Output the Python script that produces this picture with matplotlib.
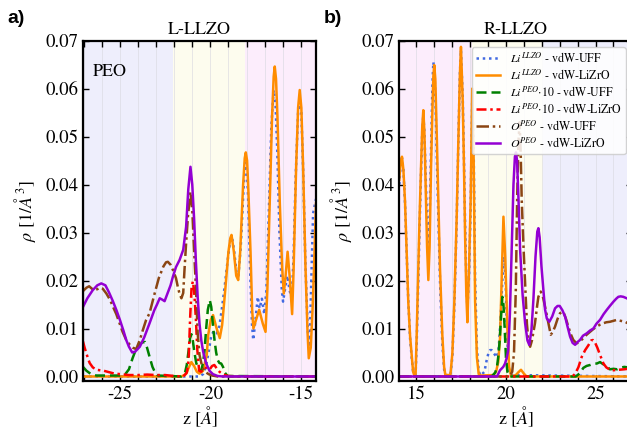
import matplotlib
matplotlib.use("Agg")
import matplotlib.pyplot as plt
from matplotlib.ticker import MultipleLocator, FormatStrFormatter

plt.rcParams['font.family'] = ['STIXGeneral', 'DejaVu Sans']
plt.rcParams['mathtext.fontset'] = 'custom'
plt.rcParams['mathtext.rm'] = 'STIXGeneral'
plt.rcParams['mathtext.it'] = 'STIXGeneral:italic'
plt.rcParams['mathtext.bf'] = 'STIXGeneral:bold'
plt.rcParams['axes.unicode_minus'] = False

# ---------------- data: left panel (L-LLZO) ----------------
zL_li_uff = [-27.04, -20.6, -20.4, -20.25, -20.1, -19.95, -19.8, -19.65, -19.5, -19.35, -19.2, -19.05, -18.9, -18.8,
             -18.68, -18.55, -18.45, -18.32, -18.18, -18.08, -18.0, -17.92, -17.8, -17.7, -17.63, -17.5, -17.38, -17.28,
             -17.15, -17.02, -16.9, -16.77, -16.63, -16.5, -16.4, -16.3, -16.18, -16.05, -15.98, -15.88, -15.75, -15.62,
             -15.5, -15.4, -15.28, -15.15, -15.06, -14.97, -14.87, -14.75, -14.62, -14.52, -14.42, -14.32, -14.16]
rL_li_uff = [0.0, 0.0, 0.0005, 0.002, 0.005, 0.0085, 0.0095, 0.009, 0.0105, 0.0145, 0.019, 0.024, 0.0285, 0.029,
             0.026, 0.0215, 0.021, 0.027, 0.038, 0.0445, 0.0445, 0.038, 0.022, 0.011, 0.0076, 0.012, 0.0166, 0.0142,
             0.0162, 0.013, 0.018, 0.034, 0.052, 0.0597, 0.057, 0.047, 0.03, 0.018, 0.0156, 0.018, 0.021, 0.018,
             0.016, 0.025, 0.042, 0.055, 0.058, 0.055, 0.043, 0.024, 0.01, 0.0055, 0.02, 0.034, 0.037]

zL_li_lizro = [-27.04, -21.6, -21.35, -21.2, -21.05, -20.9, -20.75, -20.6, -20.4, -20.2, -20.12, -19.98, -19.85,
               -19.66, -19.48, -19.35, -19.2, -19.0, -18.9, -18.83, -18.7, -18.57, -18.46, -18.35, -18.19, -18.1,
               -18.04, -17.97, -17.91, -17.78, -17.69, -17.62, -17.5, -17.3, -17.1, -16.95, -16.85, -16.72, -16.59,
               -16.5, -16.44, -16.37, -16.29, -16.16, -16.03, -15.94, -15.84, -15.73, -15.62, -15.48, -15.4, -15.26,
               -15.15, -15.06, -14.97, -14.87, -14.74, -14.63, -14.56, -14.45, -14.35, -14.27, -14.16]
rL_li_lizro = [0.0, 0.0, 0.0005, 0.0018, 0.003, 0.0022, 0.001, 0.0006, 0.0012, 0.0045, 0.0086, 0.0118, 0.0128,
               0.0101, 0.008, 0.0107, 0.017, 0.026, 0.0288, 0.0295, 0.026, 0.021, 0.0201, 0.026, 0.0399, 0.0455,
               0.0467, 0.045, 0.0399, 0.026, 0.014, 0.010, 0.0115, 0.0139, 0.011, 0.0093, 0.018, 0.036, 0.054,
               0.0625, 0.0646, 0.062, 0.054, 0.036, 0.0226, 0.0173, 0.021, 0.026, 0.021, 0.013, 0.022, 0.0434,
               0.056, 0.0597, 0.056, 0.0434, 0.0226, 0.0094, 0.0038, 0.006, 0.014, 0.0226, 0.036]

zL_peo_uff = [-27.04, -26.85, -26.6, -26.3, -25.0, -24.7, -24.5, -24.3, -24.1, -23.9, -23.75, -23.62, -23.5, -23.36,
              -23.2, -23.05, -22.9, -21.6, -21.4, -21.3, -21.2, -21.12, -21.05, -20.97, -20.88, -20.78, -20.65, -20.5,
              -20.4, -20.32, -20.22, -20.14, -20.03, -19.95, -19.85, -19.77, -19.68, -19.59, -19.5, -19.4, -19.3,
              -19.2, -19.05, -14.16]
rL_peo_uff = [0.002, 0.0012, 0.0005, 0.0002, 0.0002, 0.0005, 0.0015, 0.0038, 0.0058, 0.0067, 0.0071, 0.0072, 0.006,
              0.0041, 0.002, 0.0008, 0.0002, 0.0, 0.0008, 0.0025, 0.0055, 0.008, 0.0088, 0.0075, 0.005, 0.0028,
              0.0015, 0.0012, 0.003, 0.0055, 0.0105, 0.0139, 0.0159, 0.0145, 0.0105, 0.0076, 0.005, 0.0034, 0.0028,
              0.0027, 0.002, 0.0008, 0.0001, 0.0]

zL_peo_lizro = [-27.04, -26.95, -26.85, -26.75, -26.67, -26.5, -26.3, -26.1, -25.9, -25.6, -25.3, -25.0, -24.5,
                -24.0, -23.5, -23.0, -22.5, -22.0, -21.5, -21.3, -21.2, -21.12, -21.04, -20.97, -20.9, -20.8, -20.72,
                -20.62, -20.5, -20.35, -20.2, -20.05, -19.9, -19.78, -19.65, -19.5, -19.3, -19.0, -18.5, -14.16]
rL_peo_lizro = [0.0073, 0.006, 0.0048, 0.0036, 0.0028, 0.0019, 0.0014, 0.0013, 0.0012, 0.0009, 0.0006, 0.0005,
                0.0003, 0.0003, 0.0004, 0.0003, 0.0003, 0.0001, 0.0, 0.0008, 0.0034, 0.012, 0.0185, 0.0198, 0.018,
                0.012, 0.0055, 0.0012, 0.001, 0.0018, 0.0018, 0.0014, 0.0022, 0.0024, 0.0017, 0.001, 0.0004, 0.0001,
                0.0, 0.0]

zL_o_uff = [-27.04, -26.85, -26.7, -26.55, -26.4, -26.25, -26.1, -25.95, -25.75, -25.55, -25.39, -25.2, -25.02,
            -24.85, -24.65, -24.45, -24.28, -24.1, -23.9, -23.73, -23.55, -23.36, -23.08, -22.85, -22.6, -22.45,
            -22.35, -22.2, -22.07, -21.9, -21.8, -21.7, -21.6, -21.5, -21.43, -21.34, -21.24, -21.1, -21.0, -20.9,
            -20.8, -20.7, -20.6, -20.45, -20.3, -20.1, -19.9, -19.6, -14.16]
rL_o_uff = [0.0178, 0.0185, 0.0188, 0.0183, 0.018, 0.0182, 0.0185, 0.0183, 0.0173, 0.016, 0.0146, 0.013, 0.0111,
            0.0093, 0.0076, 0.0066, 0.006, 0.0057, 0.0076, 0.0097, 0.0118, 0.0132, 0.0173, 0.0205, 0.0229, 0.0238,
            0.0239, 0.0233, 0.0222, 0.0205, 0.0187, 0.0172, 0.0163, 0.0174, 0.0222, 0.0278, 0.0333, 0.0385, 0.0347,
            0.0264, 0.0187, 0.009, 0.0045, 0.002, 0.001, 0.0005, 0.0002, 0.0, 0.0]

zL_o_lizro = [-27.04, -26.8, -26.5, -26.25, -26.03, -25.8, -25.6, -25.4, -25.2, -25.0, -24.8, -24.65, -24.5, -24.32,
              -24.15, -23.9, -23.65, -23.36, -23.1, -22.95, -22.8, -22.65, -22.53, -22.4, -22.2, -22.07, -21.9, -21.7,
              -21.5, -21.34, -21.22, -21.1, -21.0, -20.9, -20.8, -20.7, -20.6, -20.5, -20.4, -20.24, -20.05, -19.86,
              -19.6, -19.3, -14.16]
rL_o_lizro = [0.0145, 0.0163, 0.018, 0.019, 0.0194, 0.019, 0.0175, 0.0158, 0.0139, 0.0118, 0.0095, 0.0076, 0.0062,
              0.005, 0.0052, 0.0062, 0.0082, 0.0111, 0.0138, 0.015, 0.0163, 0.016, 0.0157, 0.017, 0.019, 0.0208,
              0.0228, 0.0243, 0.0264, 0.0312, 0.039, 0.0437, 0.040, 0.033, 0.024, 0.0165, 0.011, 0.0075, 0.0052,
              0.0028, 0.0012, 0.0005, 0.0001, 0.0, 0.0]

# ---------------- data: right panel (R-LLZO) ----------------
zR_li = [14.05, 14.12, 14.2, 14.28, 14.37, 14.46, 14.55, 14.65, 14.74, 14.82, 14.88, 14.96, 15.02, 15.11, 15.18,
         15.26, 15.33, 15.39, 15.45, 15.52, 15.6, 15.67, 15.74, 15.82, 15.9, 15.95, 16.0, 16.06, 16.14, 16.23, 16.32,
         16.45, 16.55, 16.62, 16.9, 17.01, 17.12, 17.25, 17.34, 17.43, 17.49, 17.59, 17.66, 17.72, 17.79, 17.85,
         17.94, 18.03, 18.12, 18.2, 18.28, 18.38, 18.48, 18.6]
rR_li_uff_a = [0.040, 0.044, 0.0455, 0.043, 0.036, 0.026, 0.016, 0.008, 0.004, 0.001, 0.0003, 0.0005, 0.007, 0.02,
               0.031, 0.042, 0.051, 0.0545, 0.051, 0.042, 0.032, 0.028, 0.033, 0.047, 0.061, 0.0655, 0.064, 0.059,
               0.046, 0.033, 0.02, 0.007, 0.0015, 0.0003, 0.0003, 0.004, 0.0145, 0.032, 0.048, 0.063, 0.068, 0.058,
               0.045, 0.032, 0.02, 0.014, 0.021, 0.035, 0.058, 0.047, 0.02, 0.006, 0.001, 0.0002]
rR_li_lizro_a = [0.041, 0.0445, 0.0458, 0.043, 0.0364, 0.026, 0.0156, 0.0085, 0.0045, 0.001, 0.0003, 0.0005, 0.0087,
                 0.0226, 0.033, 0.0434, 0.052, 0.0555, 0.051, 0.0398, 0.027, 0.0201, 0.027, 0.0434, 0.056, 0.0625,
                 0.0649, 0.062, 0.0503, 0.0364, 0.0226, 0.0087, 0.002, 0.0003, 0.0003, 0.0048, 0.0156, 0.033, 0.0483,
                 0.0628, 0.0687, 0.0573, 0.0434, 0.0295, 0.017, 0.0113, 0.0226, 0.0364, 0.060, 0.045, 0.0156, 0.004,
                 0.0005, 0.0002]
zR_li_uff_b = [18.8, 18.93, 19.02, 19.12, 19.2, 19.3, 19.39, 19.5, 19.6, 19.7, 19.8, 19.9, 19.98, 20.06, 20.15,
               20.25, 27.05]
rR_li_uff_b = [0.001, 0.0035, 0.0048, 0.0055, 0.0055, 0.005, 0.0045, 0.004, 0.006, 0.012, 0.02, 0.025, 0.02, 0.009,
               0.002, 0.0003, 0.0]
zR_li_lizro_b = [19.3, 19.45, 19.57, 19.67, 19.76, 19.86, 19.96, 20.08, 20.18, 20.3, 20.55, 20.7, 20.84, 21.0,
                 21.15, 27.05]
rR_li_lizro_b = [0.0003, 0.001, 0.003, 0.008, 0.02, 0.0333, 0.025, 0.01, 0.002, 0.0, 0.0003, 0.0009, 0.0014, 0.0006,
                 0.0, 0.0]

zR_peo_uff = [14.05, 19.2, 19.4, 19.5, 19.57, 19.65, 19.72, 19.8, 19.86, 19.93, 20.0, 20.08, 20.2, 23.9, 24.13,
              24.32, 24.5, 24.7, 24.9, 25.07, 25.25, 25.45, 25.63, 25.8, 26.0, 26.2, 26.37, 26.6, 26.8, 27.05]
rR_peo_uff = [0.0, 0.0, 0.0008, 0.002, 0.0041, 0.0075, 0.012, 0.0166, 0.015, 0.01, 0.004, 0.001, 0.0, 0.0, 0.0007,
              0.0018, 0.0022, 0.0024, 0.0027, 0.0027, 0.003, 0.0025, 0.0021, 0.0015, 0.0016, 0.0015, 0.0018, 0.002,
              0.0019, 0.0018]

zR_peo_lizro = [14.05, 23.7, 23.85, 24.04, 24.23, 24.42, 24.6, 24.75, 24.85, 24.98, 25.1, 25.25, 25.44, 25.6, 25.8,
                26.0, 26.3, 26.6, 26.8, 27.05]
rR_peo_lizro = [0.0, 0.0, 0.0005, 0.0019, 0.0041, 0.0055, 0.0065, 0.0075, 0.0076, 0.007, 0.006, 0.0045, 0.0027,
                0.0019, 0.0014, 0.0013, 0.0014, 0.0015, 0.0016, 0.0015]

zR_o_uff = [14.05, 20.2, 20.35, 20.45, 20.55, 20.63, 20.7, 20.76, 20.82, 20.88, 20.98, 21.07, 21.17, 21.25, 21.35,
            21.45, 21.62, 21.75, 21.81, 21.94, 22.05, 22.18, 22.37, 22.5, 22.6, 22.74, 22.88, 23.02, 23.2, 23.35,
            23.48, 23.62, 23.76, 23.95, 24.15, 24.32, 24.5, 24.69, 24.88, 25.07, 25.25, 25.44, 25.6, 25.8, 26.0,
            26.18, 26.4, 26.64, 26.85, 27.05]
rR_o_uff = [0.0, 0.0, 0.001, 0.005, 0.018, 0.038, 0.049, 0.053, 0.047, 0.0368, 0.027, 0.0194, 0.011, 0.0076, 0.0062,
            0.0075, 0.0111, 0.015, 0.0166, 0.0177, 0.0168, 0.0146, 0.0111, 0.0087, 0.0092, 0.0104, 0.012, 0.0132,
            0.0135, 0.012, 0.0104, 0.0088, 0.0076, 0.0069, 0.0074, 0.008, 0.0087, 0.0093, 0.0099, 0.0104, 0.0108,
            0.0111, 0.0113, 0.0114, 0.0116, 0.0118, 0.0116, 0.0114, 0.011, 0.0108]

zR_o_lizro = [14.05, 19.5, 19.67, 19.85, 19.95, 20.05, 20.13, 20.22, 20.32, 20.42, 20.5, 20.56, 20.62, 20.7, 20.79,
              20.93, 21.07, 21.2, 21.3, 21.42, 21.53, 21.65, 21.75, 21.81, 21.88, 21.98, 22.09, 22.18, 22.28, 22.42,
              22.58, 22.74, 22.88, 23.0, 23.15, 23.3, 23.45, 23.58, 23.72, 23.86, 24.0, 24.13, 24.3, 24.51, 24.7,
              24.88, 25.05, 25.25, 25.45, 25.63, 25.8, 26.0, 26.15, 26.27, 26.4, 26.55, 26.74, 26.9, 27.05]
rR_o_lizro = [0.0, 0.0, 0.0013, 0.002, 0.0027, 0.004, 0.0055, 0.013, 0.0264, 0.040, 0.0458, 0.0467, 0.045, 0.037,
              0.0264, 0.017, 0.0111, 0.0075, 0.0066, 0.0095, 0.0159, 0.025, 0.0302, 0.0309, 0.029, 0.023, 0.018,
              0.014, 0.0121, 0.0114, 0.0125, 0.0142, 0.0147, 0.0147, 0.0138, 0.0125, 0.0102, 0.0083, 0.007, 0.0066,
              0.0072, 0.0076, 0.0085, 0.009, 0.0096, 0.01, 0.011, 0.0118, 0.013, 0.0139, 0.0147, 0.0156, 0.0162,
              0.0166, 0.0167, 0.0166, 0.0163, 0.016, 0.0158]

labels = [r'$Li^{LLZO}$ - vdW-UFF', r'$Li^{LLZO}$ - vdW-LiZrO', r'$Li^{PEO}$$\cdot$10 - vdW-UFF',
          r'$Li^{PEO}$$\cdot$10 - vdW-LiZrO', r'$O^{PEO}$ - vdW-UFF', r'$O^{PEO}$ - vdW-LiZrO']
titles = ['L-LLZO', 'R-LLZO']
panel_tags = ['a)', 'b)']

# ---------------- styles ----------------
c_blue, c_orange, c_green, c_red, c_brown, c_purple = '#4169e1', '#ff8c00', '#008000', '#ff0000', '#8b4513', '#9400d3'
ls_blue = (0, (1, 1.5))
ls_green = (0, (4, 2))
ls_red = (0, (4, 1.5, 1, 1.5))
ls_brown = (0, (5, 1.5, 1, 1.5))
lw = 1.8

fig = plt.figure(figsize=(6.27, 4.33), dpi=100)
axL = fig.add_axes([83 / 627, (433 - 381) / 433, 233 / 627, (381 - 40.6) / 433])
axR = fig.add_axes([399.3 / 627, (433 - 381) / 433, 233 / 627, (381 - 40.6) / 433])

c_bg_blue, c_bg_yel, c_bg_pink = '#eeeefc', '#fdfcee', '#fcedfc'

# left panel
axL.axvspan(-27.04, -22.05, color=c_bg_blue, zorder=0, lw=0)
axL.axvspan(-22.05, -18.09, color=c_bg_yel, zorder=0, lw=0)
axL.axvspan(-18.09, -14.16, color=c_bg_pink, zorder=0, lw=0)
axL.plot(zL_li_uff, rL_li_uff, color=c_blue, ls=ls_blue, lw=lw)
axL.plot(zL_li_lizro, rL_li_lizro, color=c_orange, ls='-', lw=lw)
axL.plot(zL_peo_uff, rL_peo_uff, color=c_green, ls=ls_green, lw=lw)
axL.plot(zL_peo_lizro, rL_peo_lizro, color=c_red, ls=ls_red, lw=lw)
axL.plot(zL_o_uff, rL_o_uff, color=c_brown, ls=ls_brown, lw=lw)
axL.plot(zL_o_lizro, rL_o_lizro, color=c_purple, ls='-', lw=lw)
axL.set_xlim(-27.04, -14.16)
axL.text(-25.55, 0.0635, 'PEO', fontsize=13, ha='center', va='center')

# right panel
axR.axvspan(14.05, 18.09, color=c_bg_pink, zorder=0, lw=0)
axR.axvspan(18.09, 22.07, color=c_bg_yel, zorder=0, lw=0)
axR.axvspan(22.07, 27.05, color=c_bg_blue, zorder=0, lw=0)
axR.plot(zR_li + zR_li_uff_b, rR_li_uff_a + rR_li_uff_b, color=c_blue, ls=ls_blue, lw=lw, label=labels[0])
axR.plot(zR_li + zR_li_lizro_b, rR_li_lizro_a + rR_li_lizro_b, color=c_orange, ls='-', lw=lw, label=labels[1])
axR.plot(zR_peo_uff, rR_peo_uff, color=c_green, ls=ls_green, lw=lw, label=labels[2])
axR.plot(zR_peo_lizro, rR_peo_lizro, color=c_red, ls=ls_red, lw=lw, label=labels[3])
axR.plot(zR_o_uff, rR_o_uff, color=c_brown, ls=ls_brown, lw=lw, label=labels[4])
axR.plot(zR_o_lizro, rR_o_lizro, color=c_purple, ls='-', lw=lw, label=labels[5])
axR.set_xlim(14.05, 27.05)
leg = axR.legend(loc='upper right', fontsize=8.6, framealpha=0.85, edgecolor='#cccccc',
                 borderaxespad=0.55, handlelength=2.0, labelspacing=0.25, borderpad=0.35)

for ax, t in zip([axL, axR], titles):
    ax.set_ylim(-0.00094, 0.07)
    ax.xaxis.set_major_locator(MultipleLocator(5))
    ax.xaxis.set_minor_locator(MultipleLocator(1))
    ax.yaxis.set_major_locator(MultipleLocator(0.01))
    ax.yaxis.set_major_formatter(FormatStrFormatter('%.2f'))
    ax.tick_params(which='both', direction='in', top=True, right=True, length=4, width=1, labelsize=13.5)
    ax.grid(axis='x', which='both', color='#d8d8e0', lw=0.6, alpha=0.7, zorder=0.5)
    ax.set_axisbelow(True)
    for s in ax.spines.values():
        s.set_linewidth(1.6)
    ax.set_title(t, fontsize=13, pad=5)
    ax.set_xlabel(r'z [$Å$]', fontsize=13, labelpad=1)
    ax.set_ylabel(r'$\rho$ [$1/Å^{3}$]', fontsize=13, labelpad=5)

fig.text(0.012, 0.957, panel_tags[0], fontsize=14, fontweight='bold', family='Liberation Sans', va='center')
fig.text(0.517, 0.957, panel_tags[1], fontsize=14, fontweight='bold', family='Liberation Sans', va='center')

fig.savefig('out.png', dpi=100)
